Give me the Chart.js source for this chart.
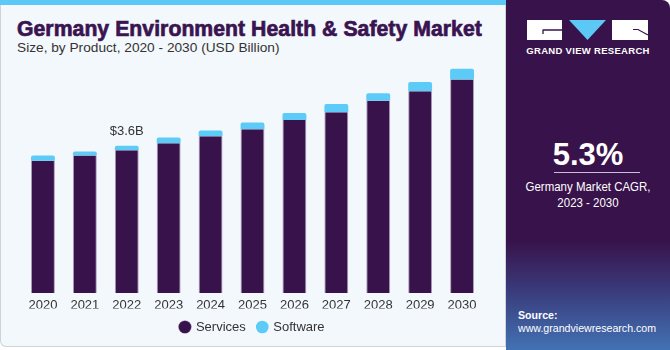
<!DOCTYPE html>
<html><head><meta charset="utf-8">
<script src="https://cdn.jsdelivr.net/npm/chart.js@4"></script>
<style>
html,body{margin:0;padding:0;width:670px;height:350px;overflow:hidden;background:#fff;font-family:"Liberation Sans",Arial,sans-serif;}
#main{position:absolute;left:0;top:0;width:504px;height:346px;background:#f3f8fc;border:1px solid #cfd4d8;border-top:none;border-radius:0 0 0 6px;}
#stripe{position:absolute;left:0;top:0;width:506px;height:5px;background:#5bc8f5;}
#title{position:absolute;left:17px;top:17px;font-family:"Liberation Sans",Arial,sans-serif;font-weight:900;font-size:21.2px;color:#3a1450;letter-spacing:0.05px;white-space:nowrap;-webkit-text-stroke:0.7px #3a1450;}
#sub{position:absolute;left:17px;top:40px;font-size:13.7px;color:#333;white-space:nowrap;}
#right{position:absolute;left:506px;top:0;width:164px;height:350px;background:#38124a;border-radius:0 8px 0 0;overflow:hidden;}
#rgrad{position:absolute;left:0;top:240px;width:164px;height:110px;background:linear-gradient(to bottom,#38124a 0%,#3a3a7a 45%,#4272b4 100%);}
#cagr{position:absolute;left:0;width:164px;top:137px;text-align:center;color:#fff;font-weight:bold;font-size:31px;}
#line{position:absolute;left:48px;top:172px;width:86px;height:1px;background:#c9bfd4;}
#cagrtxt{position:absolute;left:0;width:164px;top:179px;text-align:center;color:#fff;font-size:13.5px;line-height:16px;transform:scaleX(0.85);transform-origin:82px 0;}
#src{position:absolute;left:12px;top:309px;color:#fff;font-size:11px;line-height:13px;transform:scaleX(0.965);transform-origin:0 0;}
#gvr{position:absolute;left:0;width:164px;top:45px;text-align:center;color:#fff;font-weight:bold;font-size:9.5px;letter-spacing:0.3px;}
#wrap{position:absolute;left:0;top:60px;width:505px;height:288px;}
</style></head>
<body>
<div id="main"></div>
<div id="stripe"></div>
<div id="title">Germany Environment Health &amp; Safety Market</div>
<div id="sub">Size, by Product, 2020 - 2030 (USD Billion)</div>
<div id="right">
  <div id="rgrad"></div>
  <svg style="position:absolute;left:0;top:0" width="164" height="60">
    <rect x="21" y="20" width="35" height="20" fill="#fff"/>
    <path d="M37 30 L56 30 M37 29.5 L37 34" stroke="#38124a" stroke-width="1.3" fill="none"/>
    <polygon points="63,20 100,20 81.5,40" fill="#5bc8f5"/>
    <rect x="106" y="20" width="36" height="20" fill="#fff"/>
    <path d="M127 29.5 L132 29.5 L142 35" stroke="#38124a" stroke-width="1.2" fill="none"/>
  </svg>
  <div id="gvr">GRAND VIEW RESEARCH</div>
  <div id="cagr">5.3%</div>
  <div id="line"></div>
  <div id="cagrtxt">Germany Market CAGR,<br>2023 - 2030</div>
  <div id="src"><b>Source:</b><br>www.grandviewresearch.com</div>
</div>
<div id="wrap"><canvas id="c" width="505" height="288"></canvas></div>
<script>
const years = ["2020","2021","2022","2023","2024","2025","2026","2027","2028","2029","2030"];
const services = [3.23,3.36,3.49,3.66,3.83,4.00,4.23,4.42,4.70,4.93,5.22];
const software = [0.13,0.10,0.11,0.14,0.14,0.17,0.17,0.20,0.18,0.23,0.26];
const labelYear = "2022";
const labelText = "$3.6B";

const labelPlugin = {
  id:'lbl',
  afterDatasetsDraw(chart){
    const i = years.indexOf(labelYear);
    const x = chart.scales.x.getPixelForValue(i);
    const y = chart.scales.y.getPixelForValue(services[i]+software[i]);
    const ctx = chart.ctx;
    ctx.save();
    ctx.font = '13px "Liberation Sans", Arial, sans-serif';
    ctx.fillStyle = '#333';
    ctx.textAlign = 'center';
    ctx.textBaseline = 'bottom';
    ctx.fillText(labelText, x, y-8);
    ctx.restore();
  }
};

new Chart(document.getElementById('c'), {
  type:'bar',
  data:{labels:years, datasets:[
    {label:'Services', data:services, backgroundColor:'#38124a', borderColor:'rgba(120,90,140,0.6)', borderWidth:{left:1,right:1,top:0,bottom:0}, barPercentage:0.57, categoryPercentage:1},
    {label:'Software', data:software, backgroundColor:'#5ccbf8', borderRadius:{topLeft:2,topRight:2}, borderSkipped:'bottom', barPercentage:0.57, categoryPercentage:1}
  ]},
  options:{
    responsive:false, animation:false,
    layout:{padding:{left:22,right:22,top:8,bottom:4.5}},
    scales:{
      x:{stacked:true, grid:{display:false, drawTicks:false}, border:{display:false},
         afterFit(scale){ scale.height = 15.5; },
         ticks:{color:'#333', font:{size:13, family:'"Liberation Sans", Arial, sans-serif'}, padding:5}},
      y:{stacked:true, display:false, min:0, max:5.5}
    },
    plugins:{
      legend:{position:'bottom', labels:{usePointStyle:true, pointStyle:'circle', boxWidth:9, boxHeight:9, padding:12, color:'#333', font:{size:13, family:'"Liberation Sans", Arial, sans-serif'}}},
      tooltip:{enabled:false}
    }
  },
  plugins:[labelPlugin]
});
</script>
</body></html>
